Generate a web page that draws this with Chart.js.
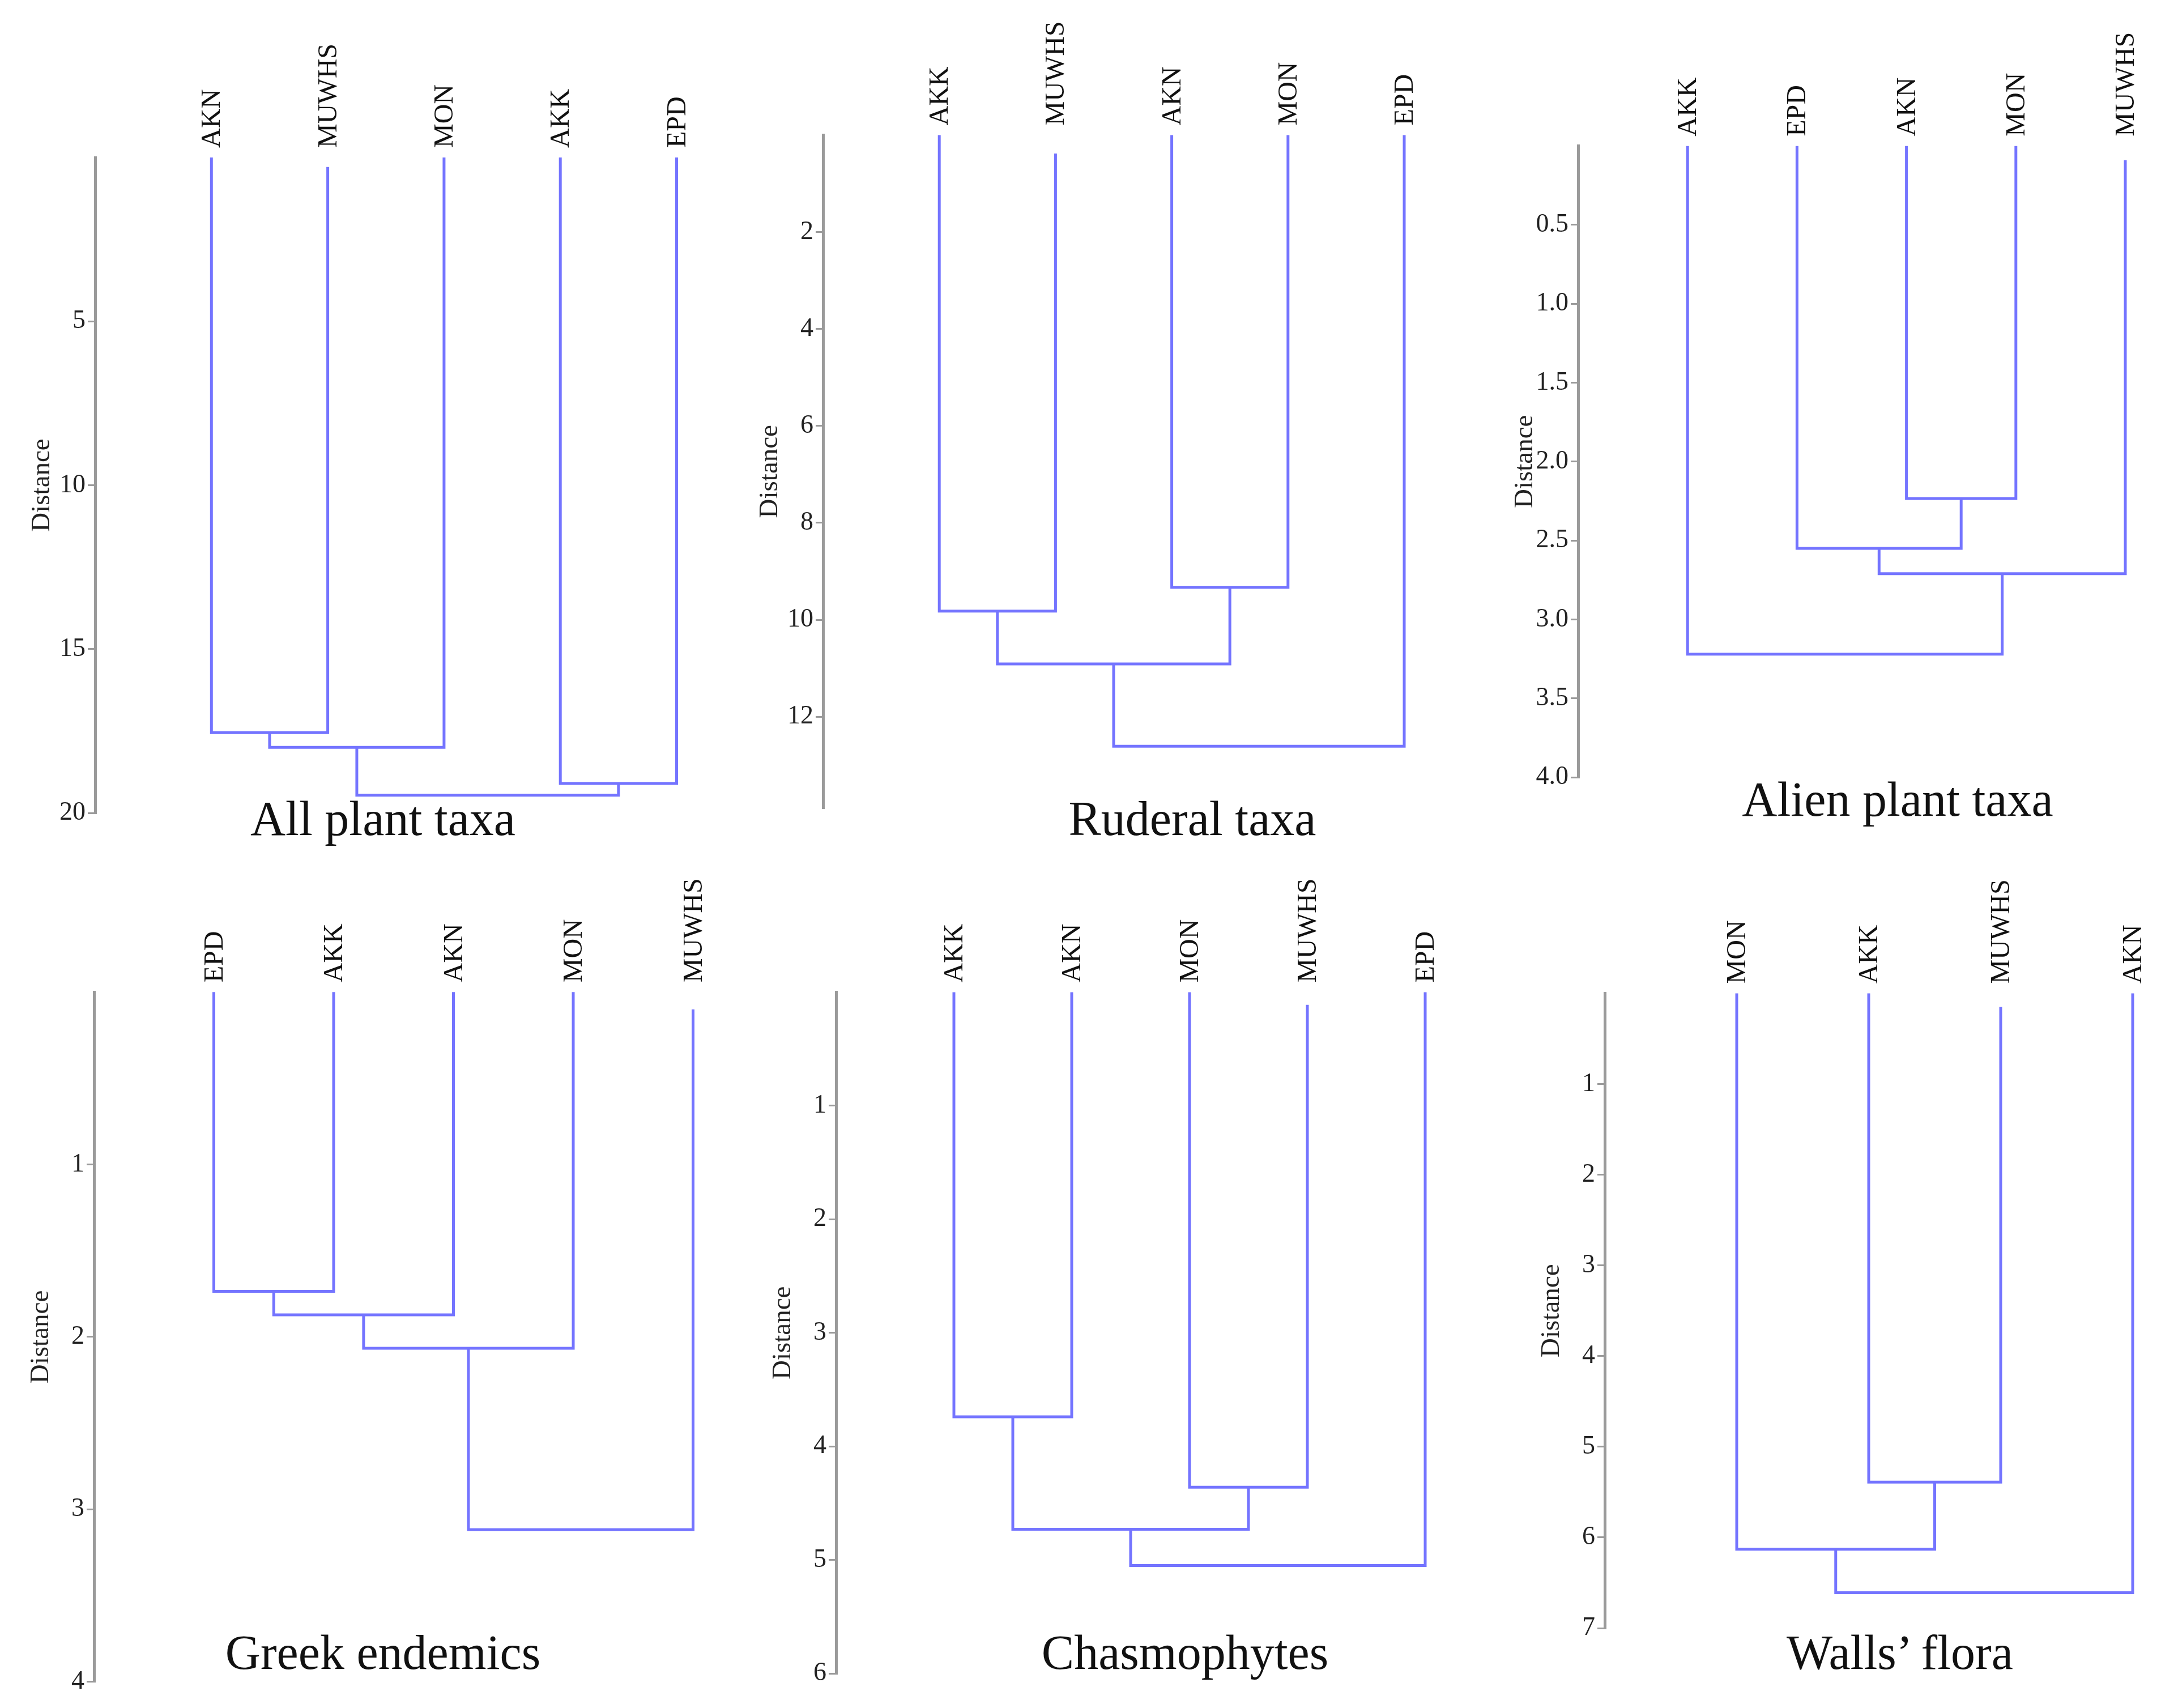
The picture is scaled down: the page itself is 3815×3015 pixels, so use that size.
<!DOCTYPE html>
<html>
<head>
<meta charset="utf-8">
<script src="https://cdn.jsdelivr.net/npm/chart.js@4.4.1/dist/chart.umd.min.js"></script>
<style>
  html, body { margin: 0; padding: 0; background: #fff; }
  body { width: 3815px; height: 3015px; position: relative; overflow: hidden; }
  canvas { position: absolute; }
  .ttl {
    position: absolute; font-family: "Liberation Serif", serif; font-size: 86px;
    line-height: 1; color: #111; white-space: nowrap; transform: translateX(-50%);
  }
</style>
</head>
<body>
<script>
// leaf order, leaf start (distance), merges [left cluster, right cluster, distance]
// clusters 0..n-1 are the leaves, n.. are the merges in the order given
const titles = ['All plant taxa', 'Ruderal taxa', 'Alien plant taxa', 'Greek endemics', 'Chasmophytes', 'Walls\u2019 flora'];

const leavesAll = ['AKN', 'MUWHS', 'MON', 'AKK', 'EPD'];
const startAll = [0, 0.29, 0, 0, 0];
const mergesAll = [[0, 1, 17.55], [5, 2, 18.0], [3, 4, 19.1], [6, 7, 19.46]];
const ticksAll = [5, 10, 15, 20];

const leavesRud = ['AKK', 'MUWHS', 'AKN', 'MON', 'EPD'];
const startRud = [0, 0.38, 0, 0, 0];
const mergesRud = [[0, 1, 9.82], [2, 3, 9.33], [5, 6, 10.91], [7, 4, 12.61]];
const ticksRud = [2, 4, 6, 8, 10, 12];

const leavesAli = ['AKK', 'EPD', 'AKN', 'MON', 'MUWHS'];
const startAli = [0, 0, 0, 0, 0.09];
const mergesAli = [[2, 3, 2.234], [1, 5, 2.55], [6, 4, 2.71], [0, 7, 3.22]];
const ticksAli = [0.5, 1.0, 1.5, 2.0, 2.5, 3.0, 3.5, 4.0];

const leavesEnd = ['EPD', 'AKK', 'AKN', 'MON', 'MUWHS'];
const startEnd = [0, 0, 0, 0, 0.10];
const mergesEnd = [[0, 1, 1.736], [5, 2, 1.872], [6, 3, 2.066], [7, 4, 3.118]];
const ticksEnd = [1, 2, 3, 4];

const leavesCha = ['AKK', 'AKN', 'MON', 'MUWHS', 'EPD'];
const startCha = [0, 0, 0, 0.11, 0];
const mergesCha = [[0, 1, 3.74], [2, 3, 4.36], [5, 6, 4.73], [7, 4, 5.05]];
const ticksCha = [1, 2, 3, 4, 5, 6];

const leavesWal = ['MON', 'AKK', 'MUWHS', 'AKN'];
const startWal = [0, 0, 0.15, 0];
const mergesWal = [[1, 2, 5.39], [0, 4, 6.13], [5, 3, 6.61]];
const ticksWal = [1, 2, 3, 4, 5, 6, 7];

const yMaxes = [20, 13.88, 4, 4, 6, 7];

const LINE = '#7474ff';
const AXIS = '#9a9a9a';
const SERIF = '"Liberation Serif", "DejaVu Serif", serif';
const AXW = 160;

// canvas box and chart-area edges for each panel, in page pixels
const boxes = [
  {l: 0,    t: 0,    w: 1300, h: 1500, axis: 168,  top: 278,   bottom: 1435,   step: 205.3, tx: 676,  tb: 1474},
  {l: 1280, t: 0,    w: 1320, h: 1500, axis: 1453, top: 238.5, bottom: 1426,   step: 205.2, tx: 2105, tb: 1474},
  {l: 2600, t: 0,    w: 1215, h: 1500, axis: 2786, top: 257.7, bottom: 1372,   step: 193.2, tx: 3350, tb: 1440},
  {l: 0,    t: 1500, w: 1290, h: 1515, axis: 166,  top: 1751.3, bottom: 2968.6, step: 211.5, tx: 676,  tb: 2946},
  {l: 1290, t: 1500, w: 1330, h: 1515, axis: 1476, top: 1751.6, bottom: 2954,  step: 208,   tx: 2092, tb: 2946},
  {l: 2620, t: 1500, w: 1195, h: 1515, axis: 2833, top: 1753.4, bottom: 2874,  step: 233,   tx: 3354, tb: 2946}
];

const panels = [
  [leavesAll, startAll, mergesAll, ticksAll],
  [leavesRud, startRud, mergesRud, ticksRud],
  [leavesAli, startAli, mergesAli, ticksAli],
  [leavesEnd, startEnd, mergesEnd, ticksEnd],
  [leavesCha, startCha, mergesCha, ticksCha],
  [leavesWal, startWal, mergesWal, ticksWal]
];

function dendroSets(leaves, starts, merges) {
  const xs = leaves.map((_, i) => i);
  const tops = starts.slice();
  const sets = [];
  merges.forEach(([a, b, h]) => {
    sets.push({
      data: [{x: xs[a], y: tops[a]}, {x: xs[a], y: h}, {x: xs[b], y: h}, {x: xs[b], y: tops[b]}],
      showLine: true,
      borderColor: LINE,
      borderWidth: 5,
      borderJoinStyle: 'miter',
      borderCapStyle: 'butt',
      pointRadius: 0,
      tension: 0,
      clip: false
    });
    xs.push((xs[a] + xs[b]) / 2);
    tops.push(h);
  });
  return sets;
}

panels.forEach(([leaves, starts, merges, yTicks], p) => {
  const b = boxes[p];
  const n = leaves.length;
  const decimals = yTicks.some(v => v % 1 !== 0) ? 1 : 0;
  const right = b.axis + b.step * (n + 0.2);

  const canvas = document.createElement('canvas');
  canvas.width = b.w;
  canvas.height = b.h;
  canvas.style.left = b.l + 'px';
  canvas.style.top = b.t + 'px';
  document.body.appendChild(canvas);

  new Chart(canvas, {
    type: 'scatter',
    data: { datasets: dendroSets(leaves, starts, merges) },
    options: {
      responsive: false,
      animation: false,
      devicePixelRatio: 1,
      layout: {
        padding: {
          left: b.axis - AXW - b.l,
          top: 0,
          right: b.l + b.w - right,
          bottom: b.t + b.h - b.bottom
        }
      },
      plugins: { legend: false, tooltip: { enabled: false } },
      scales: {
        x: {
          type: 'linear',
          position: 'top',
          min: -1,
          max: n - 0.8,
          grid: { display: false, drawTicks: false },
          border: { display: false },
          afterBuildTicks: s => { s.ticks = leaves.map((_, i) => ({ value: i })); },
          afterFit: s => { s.height = b.top - b.t; },
          ticks: {
            autoSkip: false,
            minRotation: 90,
            maxRotation: 90,
            padding: 17,
            labelOffset: 60,
            color: '#111',
            font: { family: SERIF, size: 48 },
            callback: v => leaves[v] ?? ''
          }
        },
        y: {
          type: 'linear',
          position: 'left',
          reverse: true,
          min: 0,
          max: yMaxes[p],
          afterBuildTicks: s => { s.ticks = yTicks.map(v => ({ value: v })); },
          afterFit: s => { s.width = AXW; },
          grid: { drawOnChartArea: false, tickLength: 13, color: AXIS, lineWidth: 3 },
          border: { color: AXIS, width: 5 },
          ticks: {
            padding: 4,
            color: '#222',
            font: { family: SERIF, size: 46 },
            callback: v => v.toFixed(decimals)
          },
          title: {
            display: true,
            text: 'Distance',
            color: '#222',
            font: { family: SERIF, size: 47 },
            padding: { top: 38, bottom: 0 }
          }
        }
      }
    }
  });

  const t = document.createElement('div');
  t.className = 'ttl';
  t.textContent = titles[p];
  t.style.left = b.tx + 'px';
  t.style.top = (b.tb - 72) + 'px';
  document.body.appendChild(t);
});
</script>
</body>
</html>
